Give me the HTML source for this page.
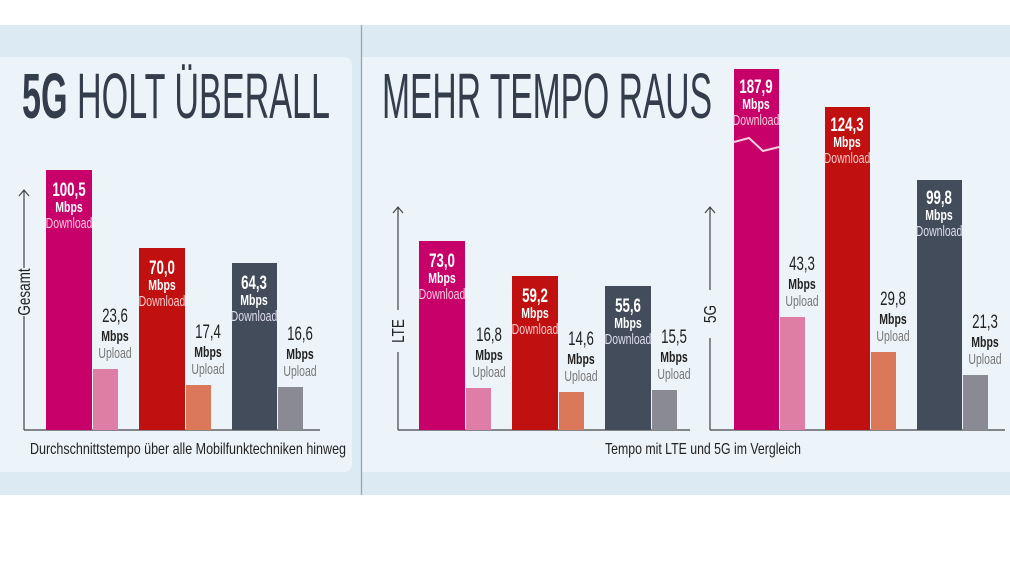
<!DOCTYPE html>
<html><head><meta charset="utf-8"><style>
html,body{margin:0;padding:0;background:#fff}
svg{display:block}
text{font-family:"Liberation Sans",sans-serif}
.v{font-size:19px;font-weight:bold;text-anchor:middle}
.m{font-size:15px;font-weight:bold;text-anchor:middle}
.d{font-size:15px;text-anchor:middle}
</style></head><body>
<svg width="1010" height="568" viewBox="0 0 1010 568" xmlns="http://www.w3.org/2000/svg">
<rect x="0" y="25" width="1010" height="470" fill="#dbeaf3"/>
<rect x="-10" y="57" width="362" height="415" rx="8" fill="#ecf4f9"/>
<rect x="362" y="57" width="660" height="415" fill="#ecf4f9"/>
<line x1="361.5" y1="25" x2="361.5" y2="495" stroke="#8da3b5" stroke-width="1.2"/>

<!-- titles -->
<text x="22" y="118" font-size="64" fill="#333d4b" textLength="308" lengthAdjust="spacingAndGlyphs"><tspan font-weight="bold">5G</tspan> HOLT ÜBERALL</text>
<text x="382" y="118" font-size="64" fill="#333d4b" textLength="330" lengthAdjust="spacingAndGlyphs">MEHR TEMPO RAUS</text>

<g stroke="#444" stroke-width="1.2" fill="none">
<path d="M24 430 H320 M24 430 V316 M24 268 V190 M19 196 L24 190 L29 196"/>
<path d="M398 430 H690 M398 430 V352 M398 310 V207 M393 213 L398 207 L403 213"/>
<path d="M710 430 H1005 M710 430 V338 M710 290 V207 M705 213 L710 207 L715 213"/>
</g>
<text transform="translate(30,292) rotate(-90) scale(0.75,1)" font-size="18" text-anchor="middle" fill="#222">Gesamt</text>
<text transform="translate(404,331) rotate(-90) scale(0.75,1)" font-size="18" text-anchor="middle" fill="#222">LTE</text>
<text transform="translate(716,314) rotate(-90) scale(0.75,1)" font-size="18" text-anchor="middle" fill="#222">5G</text>

<!-- bars -->
<g>
<rect x="46" y="170" width="46" height="260" fill="#c8006a"/><rect x="93" y="369" width="25" height="61" fill="#de7ea6"/>
<rect x="139" y="248" width="46" height="182" fill="#c01010"/><rect x="186" y="385" width="25" height="45" fill="#dc785a"/>
<rect x="232" y="263" width="45" height="167" fill="#434c5a"/><rect x="278" y="387" width="25" height="43" fill="#8a8a94"/>

<rect x="419" y="241" width="46" height="189" fill="#c8006a"/><rect x="466" y="388" width="25" height="42" fill="#de7ea6"/>
<rect x="512" y="276" width="46" height="154" fill="#c01010"/><rect x="559" y="392" width="25" height="38" fill="#dc785a"/>
<rect x="605" y="286" width="46" height="144" fill="#434c5a"/><rect x="652" y="390" width="25" height="40" fill="#8a8a94"/>

<rect x="734" y="69" width="45" height="361" fill="#c8006a"/><rect x="780" y="317" width="25" height="113" fill="#de7ea6"/>
<rect x="825" y="107" width="45" height="323" fill="#c01010"/><rect x="871" y="352" width="25" height="78" fill="#dc785a"/>
<rect x="917" y="180" width="45" height="250" fill="#434c5a"/><rect x="963" y="375" width="25" height="55" fill="#8a8a94"/>
</g>
<path d="M734 142 L749 138 L763 151 L779 147" stroke="#f4d0e0" stroke-width="2" fill="none"/>

<!-- download labels -->
<g fill="#fff">
<text class="v" transform="translate(69,196) scale(0.7,1)">100,5</text><text class="m" transform="translate(69,212) scale(0.7,1)">Mbps</text><text class="d" fill="#f6c8dc" transform="translate(69,228) scale(0.7,1)">Download</text>
<text class="v" transform="translate(162,274) scale(0.7,1)">70,0</text><text class="m" transform="translate(162,290) scale(0.7,1)">Mbps</text><text class="d" fill="#f6c8c8" transform="translate(162,306) scale(0.7,1)">Download</text>
<text class="v" transform="translate(254,289) scale(0.7,1)">64,3</text><text class="m" transform="translate(254,305) scale(0.7,1)">Mbps</text><text class="d" fill="#dde" transform="translate(254,321) scale(0.7,1)">Download</text>

<text class="v" transform="translate(442,267) scale(0.7,1)">73,0</text><text class="m" transform="translate(442,283) scale(0.7,1)">Mbps</text><text class="d" fill="#f6c8dc" transform="translate(442,299) scale(0.7,1)">Download</text>
<text class="v" transform="translate(535,302) scale(0.7,1)">59,2</text><text class="m" transform="translate(535,318) scale(0.7,1)">Mbps</text><text class="d" fill="#f6c8c8" transform="translate(535,334) scale(0.7,1)">Download</text>
<text class="v" transform="translate(628,312) scale(0.7,1)">55,6</text><text class="m" transform="translate(628,328) scale(0.7,1)">Mbps</text><text class="d" fill="#dde" transform="translate(628,344) scale(0.7,1)">Download</text>

<text class="v" transform="translate(756,93) scale(0.7,1)">187,9</text><text class="m" transform="translate(756,109) scale(0.7,1)">Mbps</text><text class="d" fill="#f6c8dc" transform="translate(756,125) scale(0.7,1)">Download</text>
<text class="v" transform="translate(847,131) scale(0.7,1)">124,3</text><text class="m" transform="translate(847,147) scale(0.7,1)">Mbps</text><text class="d" fill="#f6c8c8" transform="translate(847,163) scale(0.7,1)">Download</text>
<text class="v" transform="translate(939,204) scale(0.7,1)">99,8</text><text class="m" transform="translate(939,220) scale(0.7,1)">Mbps</text><text class="d" fill="#dde" transform="translate(939,236) scale(0.7,1)">Download</text>
</g>

<!-- upload labels -->
<g fill="#222">
<text class="v" style="font-weight:normal" transform="translate(115,322) scale(0.7,1)">23,6</text><text class="m" transform="translate(115,341) scale(0.7,1)">Mbps</text><text class="d" fill="#777" transform="translate(115,358) scale(0.7,1)">Upload</text>
<text class="v" style="font-weight:normal" transform="translate(208,338) scale(0.7,1)">17,4</text><text class="m" transform="translate(208,357) scale(0.7,1)">Mbps</text><text class="d" fill="#777" transform="translate(208,374) scale(0.7,1)">Upload</text>
<text class="v" style="font-weight:normal" transform="translate(300,340) scale(0.7,1)">16,6</text><text class="m" transform="translate(300,359) scale(0.7,1)">Mbps</text><text class="d" fill="#777" transform="translate(300,376) scale(0.7,1)">Upload</text>

<text class="v" style="font-weight:normal" transform="translate(489,341) scale(0.7,1)">16,8</text><text class="m" transform="translate(489,360) scale(0.7,1)">Mbps</text><text class="d" fill="#777" transform="translate(489,377) scale(0.7,1)">Upload</text>
<text class="v" style="font-weight:normal" transform="translate(581,345) scale(0.7,1)">14,6</text><text class="m" transform="translate(581,364) scale(0.7,1)">Mbps</text><text class="d" fill="#777" transform="translate(581,381) scale(0.7,1)">Upload</text>
<text class="v" style="font-weight:normal" transform="translate(674,343) scale(0.7,1)">15,5</text><text class="m" transform="translate(674,362) scale(0.7,1)">Mbps</text><text class="d" fill="#777" transform="translate(674,379) scale(0.7,1)">Upload</text>

<text class="v" style="font-weight:normal" transform="translate(802,270) scale(0.7,1)">43,3</text><text class="m" transform="translate(802,289) scale(0.7,1)">Mbps</text><text class="d" fill="#777" transform="translate(802,306) scale(0.7,1)">Upload</text>
<text class="v" style="font-weight:normal" transform="translate(893,305) scale(0.7,1)">29,8</text><text class="m" transform="translate(893,324) scale(0.7,1)">Mbps</text><text class="d" fill="#777" transform="translate(893,341) scale(0.7,1)">Upload</text>
<text class="v" style="font-weight:normal" transform="translate(985,328) scale(0.7,1)">21,3</text><text class="m" transform="translate(985,347) scale(0.7,1)">Mbps</text><text class="d" fill="#777" transform="translate(985,364) scale(0.7,1)">Upload</text>
</g>

<text x="188" y="454" font-size="16" text-anchor="middle" fill="#222" textLength="316" lengthAdjust="spacingAndGlyphs">Durchschnittstempo über alle Mobilfunktechniken hinweg</text>
<text x="703" y="454" font-size="16" text-anchor="middle" fill="#222" textLength="196" lengthAdjust="spacingAndGlyphs">Tempo mit LTE und 5G im Vergleich</text>
</svg>
</body></html>
